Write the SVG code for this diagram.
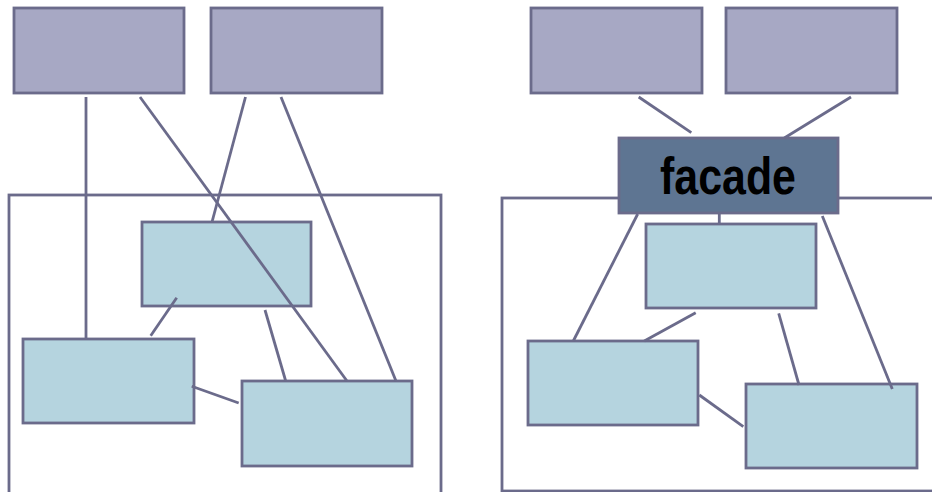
<svg xmlns="http://www.w3.org/2000/svg" width="932" height="492" viewBox="0 0 932 492">
<style>
.frame{fill:none;stroke:#6b6b8b;stroke-width:2.8}
.client{fill:#a7a8c4;stroke:#6b6b8b;stroke-width:2.8}
.sub{fill:#b5d4df;stroke:#6b6b8b;stroke-width:2.8}
.facade{fill:#5e7592;stroke:#6b6b8b;stroke-width:2.8}
.conn line{stroke:#6b6b8b;stroke-width:2.8;stroke-linecap:butt}
.lbl{font-family:"Liberation Sans",Arial,sans-serif;font-weight:bold;font-size:52px;fill:#000}
</style>
<rect width="932" height="492" fill="#fff"/>
<g id="frame-left"><rect class="frame" x="9" y="195" width="432" height="310"/></g>
<g id="frame-right"><rect class="frame" x="502" y="198" width="460" height="293"/></g>
<g id="client-l1"><rect class="client" x="14" y="8" width="170" height="85"/></g>
<g id="client-l2"><rect class="client" x="211" y="8" width="171" height="85"/></g>
<g id="client-r1"><rect class="client" x="531" y="8" width="171" height="85"/></g>
<g id="client-r2"><rect class="client" x="726" y="8" width="171" height="85"/></g>
<g id="sub-l1"><rect class="sub" x="142" y="222" width="169" height="84"/></g>
<g id="sub-l2"><rect class="sub" x="23" y="339" width="171" height="84"/></g>
<g id="sub-l3"><rect class="sub" x="242" y="381" width="170" height="85"/></g>
<g id="sub-r1"><rect class="sub" x="646" y="224" width="170" height="84"/></g>
<g id="sub-r2"><rect class="sub" x="528" y="341" width="170" height="84"/></g>
<g id="sub-r3"><rect class="sub" x="746" y="384" width="171" height="84"/></g>
<g id="facade">
<rect class="facade" x="619" y="138" width="219" height="75"/>
<text class="lbl" x="660" y="194" textLength="136" lengthAdjust="spacingAndGlyphs">facade</text>
</g>
<g id="connectors" class="conn">
<line x1="86" y1="97" x2="86" y2="339"/>
<line x1="140" y1="97" x2="347" y2="381"/>
<line x1="245.5" y1="97" x2="212" y2="222"/>
<line x1="281" y1="97" x2="396" y2="381"/>
<line x1="176.7" y1="297.7" x2="150.7" y2="335.7"/>
<line x1="265" y1="310" x2="285.7" y2="381"/>
<line x1="191.7" y1="386.3" x2="238.7" y2="403"/>
<line x1="638.7" y1="97" x2="691.3" y2="132.7"/>
<line x1="851" y1="97" x2="784.3" y2="138"/>
<line x1="637.7" y1="214" x2="573.3" y2="341"/>
<line x1="719.3" y1="214" x2="719.3" y2="224"/>
<line x1="822.3" y1="216" x2="892.3" y2="389"/>
<line x1="695.7" y1="312.7" x2="644.3" y2="341"/>
<line x1="778.7" y1="313.3" x2="799" y2="385"/>
<line x1="699.3" y1="395" x2="743.3" y2="426.7"/>
</g>
</svg>
